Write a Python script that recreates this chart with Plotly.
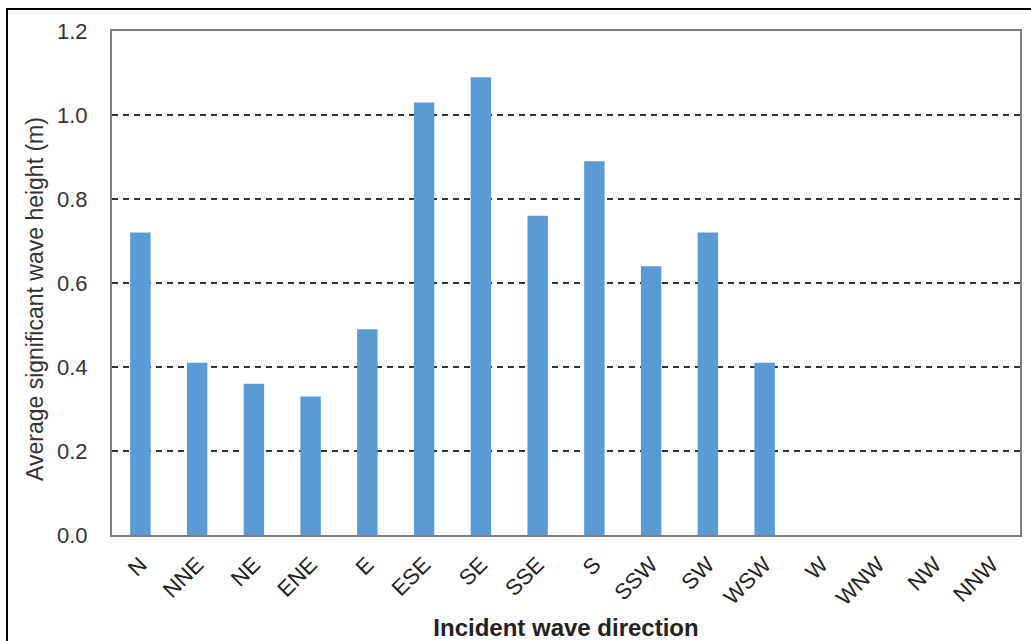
import plotly.graph_objects as go

directions = ["N", "NNE", "NE", "ENE", "E", "ESE", "SE", "SSE", "S", "SSW",
              "SW", "WSW", "W", "WNW", "NW", "NNW"]
heights = [0.72, 0.41, 0.36, 0.33, 0.49, 1.03, 1.09, 0.76, 0.89, 0.64,
           0.72, 0.41, None, None, None, None]
y_ticks = [0.0, 0.2, 0.4, 0.6, 0.8, 1.0, 1.2]
y_tick_text = ["0.0", "0.2", "0.4", "0.6", "0.8", "1.0", "1.2"]
y_title = "Average significant wave height (m)"
x_title = "Incident wave direction"

W, H = 1031, 641
L, R, T, B = 112, 11, 31, 106
pw, ph = W - L - R, H - T - B
px2x = lambda p: (p - L) / pw
px2y = lambda p: (H - B - p) / ph

fig = go.Figure(go.Bar(x=directions, y=heights, marker_color="#5B9BD5",
                       marker_line_width=0))

font = "Liberation Sans, Arial, sans-serif"
fig.update_layout(
    width=W, height=H,
    margin=dict(l=L, r=R, t=T, b=B, autoexpand=False),
    paper_bgcolor="white", plot_bgcolor="white",
    bargap=0.64,
    showlegend=False,
    font=dict(family=font, size=20, color="#222"),
)
fig.update_xaxes(
    type="category", categoryorder="array", categoryarray=directions,
    tickangle=-45, tickfont=dict(size=22, color="#222"),
    showline=True, linecolor="#7f7f7f", linewidth=2, mirror=True,
    showgrid=False, ticks="", ticklabelstandoff=6,
    automargin=False,
    title=dict(text="<b>" + x_title + "</b>", font=dict(size=24, color="#222"),
               standoff=10),
)
fig.update_yaxes(
    range=[0, 1.2], tickvals=y_ticks, ticktext=y_tick_text,
    tickfont=dict(size=22, color="#333"),
    showline=True, linecolor="#7f7f7f", linewidth=2, mirror=True,
    showgrid=True, gridcolor="#333", gridwidth=1.5, griddash="6px,5px",
    zeroline=False, ticks="", ticklabelstandoff=18,
    automargin=False,
)
fig.add_annotation(text=y_title, textangle=-90, xref="paper", yref="paper",
                   x=px2x(35), y=px2y(299), xanchor="center", yanchor="middle",
                   showarrow=False, font=dict(size=23, color="#333"))

# outer figure frame
fig.add_shape(type="rect", xref="paper", yref="paper",
              x0=px2x(7), x1=px2x(1040), y0=px2y(650), y1=px2y(9),
              line=dict(color="black", width=2), fillcolor="rgba(0,0,0,0)",
              layer="above")

fig.write_html("out.html", config={"displayModeBar": False},
               post_script="document.body.style.margin='0';")
